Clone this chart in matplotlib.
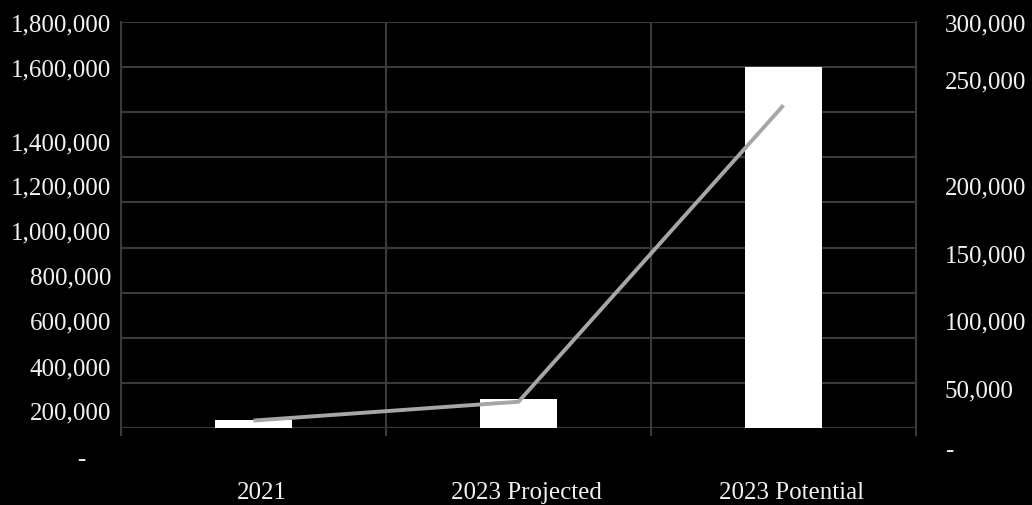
import matplotlib
matplotlib.use("Agg")
import matplotlib.pyplot as plt
import matplotlib.transforms as mtransforms
import numpy as np

# data
categories = ["2021", "2023 Projected", "2023 Potential"]
bar_values = [37000, 127000, 1600000]        # left axis
line_values = [5500, 19400, 238500]          # right axis

left_labels = ["-", "200,000", "400,000", "600,000", "800,000", "1,000,000",
               "1,200,000", "1,400,000", "1,600,000", "1,800,000"]
right_labels = ["-", "50,000", "100,000", "150,000", "200,000", "250,000", "300,000"]

# label placement (the source chart draws its axis labels off the gridlines)
left_label_pos = [-137000, 71000, 266000, 470000, 669000, 869000,
                  1066000, 1263000, 1591000, 1791000]
right_label_pos = [-16000, 27500, 78300, 127500, 178000, 255700, 298500]

bg = "black"
grid_c = "#3a3a3a"
txt_c = "#f2f2f2"
font = "Liberation Serif"
fs = 18

fig = plt.figure(figsize=(10.32, 5.06), dpi=100, facecolor=bg)
ax = fig.add_axes([121/1032, 77/506, 795/1032, 406/506])
ax.set_facecolor(bg)
ax2 = ax.twinx()

x = np.arange(len(categories))
ax.bar(x, bar_values, width=0.287, color="white", zorder=3)
ax2.plot(x, line_values, color="#a6a6a6", lw=2.8, solid_capstyle="butt", zorder=4)

ax.set_xlim(-0.5, 2.5)
ax.set_ylim(0, 1800000)
ax2.set_ylim(0, 300000)

# gridlines
ax.set_yticks(np.arange(0, 1800001, 200000))
ax.set_yticklabels([])
ax.tick_params(axis="y", length=0)
ax.grid(axis="y", color=grid_c, lw=1.5, zorder=0)
for b in [0.5, 1.5]:
    ax.axvline(b, color=grid_c, lw=1.5, zorder=0)

ax2.set_yticks([])
for a in (ax, ax2):
    for s in a.spines.values():
        s.set_visible(False)
ax.spines["left"].set_visible(True)
ax.spines["left"].set_color(grid_c)
ax.spines["left"].set_linewidth(1.5)
ax.spines["left"].set_bounds(0, 1800000)
ax2.spines["right"].set_visible(True)
ax2.spines["right"].set_color(grid_c)
ax2.spines["right"].set_linewidth(1.5)
ax2.spines["right"].set_bounds(0, 300000)

# x ticks: boundary marks + category labels
ax.set_xticks(x)
ax.set_xticklabels(categories, fontfamily=font, fontsize=fs, color=txt_c)
ax.set_xticks(np.arange(-0.5, 3, 1), minor=True)
ax.tick_params(axis="x", which="major", length=0, pad=38)
ax.tick_params(axis="x", which="minor", length=6, width=1.5, color=grid_c)
shift = mtransforms.ScaledTranslation(8/100, 0, fig.dpi_scale_trans)
for lbl in ax.get_xticklabels():
    lbl.set_transform(lbl.get_transform() + shift)

# y axis labels
ltr = mtransforms.blended_transform_factory(ax.transAxes, ax.transData)
for lab, pos in zip(left_labels, left_label_pos):
    if lab == "-":
        ax.text(-40/795, pos, lab, transform=ltr, ha="center", va="center",
                fontfamily=font, fontsize=fs, color=txt_c, clip_on=False)
    else:
        ax.text(-10/795, pos, lab, transform=ltr, ha="right", va="center",
                fontfamily=font, fontsize=fs, color=txt_c, clip_on=False)

rtr = mtransforms.blended_transform_factory(ax2.transAxes, ax2.transData)
for lab, pos in zip(right_labels, right_label_pos):
    ax2.text(1 + 29/795, pos, lab, transform=rtr, ha="left", va="center",
             fontfamily=font, fontsize=fs, color=txt_c, clip_on=False)

fig.savefig("out.png", dpi=100, facecolor=bg)
